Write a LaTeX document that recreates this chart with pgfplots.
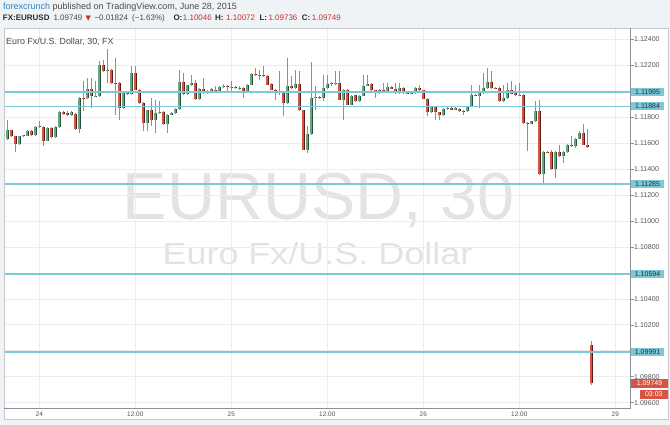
\documentclass[border=0pt]{standalone}
\usepackage{fontspec}
\setmainfont{Liberation Sans}
\newfontfamily\dejavu{DejaVu Sans}
\usepackage{graphicx}
\usepackage{pgfplots}
\usepackage{pgfplotstable}
\pgfplotsset{compat=1.18}
\definecolor{bg}{HTML}{F0F3F6}
\definecolor{framec}{HTML}{C5C9CE}
\definecolor{axline}{HTML}{8C8F94}
\definecolor{gridc}{HTML}{EDEDED}
\definecolor{hline}{HTML}{7CC8D8}
\definecolor{upfill}{HTML}{6BA583}
\definecolor{upedge}{HTML}{225437}
\definecolor{dnfill}{HTML}{D75442}
\definecolor{dnedge}{HTML}{5B1A13}
\definecolor{wick}{HTML}{8E8E8E}
\definecolor{txt}{HTML}{4A4A4A}
\definecolor{txtdark}{HTML}{2B2B2B}
\definecolor{lbl}{HTML}{555555}
\definecolor{link}{HTML}{2A85C9}
\definecolor{pricered}{HTML}{C9302C}
\definecolor{wm}{HTML}{E3E3E3}

% t = hours from 24 Jun 00:00 (weekend skipped), o h l c = open high low close
\pgfplotstableread{
t o h l c
-4 1.11633 1.11782 1.11628 1.11700
-2.5 1.11594 1.11658 1.11589 1.11653
-2 1.11653 1.11666 1.11648 1.11661
-1.5 1.11658 1.11705 1.11653 1.11697
-0.5 1.11661 1.11730 1.11653 1.11723
0 1.11725 1.11774 1.11720 1.11733
1 1.11620 1.11725 1.11615 1.11717
2 1.11646 1.11730 1.11640 1.11723
2.5 1.11723 1.11846 1.11717 1.11841
4 1.11820 1.11846 1.11813 1.11841
5 1.11712 1.11957 1.11679 1.11949
6 1.11946 1.12103 1.11941 1.12018
7 1.11962 1.12077 1.11957 1.11967
7.5 1.11962 1.12231 1.11957 1.12201
8.5 1.12154 1.12329 1.12064 1.12162
10.5 1.11872 1.12000 1.11867 1.11992
11.5 1.11980 1.12193 1.11974 1.12142
13.5 1.11756 1.11859 1.11692 1.11854
14.5 1.11777 1.11936 1.11679 1.11833
15 1.11833 1.11928 1.11828 1.11841
16 1.11751 1.11828 1.11679 1.11820
16.5 1.11820 1.11838 1.11815 1.11833
17 1.11833 1.11872 1.11828 1.11864
17.5 1.11864 1.12167 1.11859 1.12072
18.5 1.11982 1.12052 1.11974 1.12046
19 1.12046 1.12129 1.12041 1.12064
20 1.11941 1.12026 1.11936 1.12018
21 1.11992 1.12013 1.11982 1.11998
21.5 1.11992 1.12026 1.11987 1.12018
22.5 1.11995 1.12039 1.11987 1.12031
23 1.12031 1.12057 1.12026 1.12044
24 1.12031 1.12077 1.11987 1.12036
25 1.12021 1.12039 1.12013 1.12028
26 1.11992 1.12057 1.11987 1.12052
26.5 1.12052 1.12142 1.12046 1.12136
27.5 1.12126 1.12167 1.12090 1.12129
30 1.11987 1.12154 1.11974 1.11995
31 1.11910 1.12257 1.11905 1.12039
32 1.12026 1.12167 1.12021 1.12059
33.5 1.11550 1.11730 1.11525 1.11671
34 1.11671 1.12224 1.11666 1.11949
34.5 1.11949 1.12039 1.11859 1.11957
35.5 1.11946 1.12129 1.11923 1.12026
36 1.12026 1.12124 1.12021 1.12057
36.5 1.12057 1.12070 1.12041 1.12064
37 1.12059 1.12154 1.12046 1.12064
38 1.11936 1.12018 1.11782 1.12013
39 1.11897 1.11974 1.11892 1.11967
40 1.11923 1.11974 1.11918 1.11967
40.5 1.11967 1.12129 1.11962 1.12044
41 1.12044 1.12129 1.12039 1.12057
42.5 1.11987 1.12018 1.11982 1.12013
43.5 1.11995 1.12064 1.11990 1.12034
45 1.11987 1.12064 1.11982 1.12026
46.5 1.11985 1.11995 1.11980 1.11990
47 1.11987 1.12031 1.11982 1.12026
49 1.11838 1.11890 1.11833 1.11885
50.5 1.11815 1.11869 1.11810 1.11864
51 1.11864 1.11877 1.11859 1.11872
52 1.11859 1.11877 1.11854 1.11872
53.5 1.11846 1.11890 1.11841 1.11885
54 1.11885 1.12052 1.11879 1.11974
55 1.11967 1.12052 1.11872 1.11987
55.5 1.11987 1.12142 1.11982 1.12026
56 1.12026 1.12180 1.12021 1.12070
58 1.11923 1.12052 1.11918 1.11949
58.5 1.11949 1.12064 1.11944 1.12008
60 1.11972 1.12064 1.11967 1.11974
61.5 1.11751 1.11774 1.11746 1.11769
62 1.11769 1.11923 1.11764 1.11846
63 1.11363 1.11538 1.11293 1.11532
64.5 1.11401 1.11538 1.11332 1.11532
65.5 1.11499 1.11538 1.11448 1.11532
66 1.11532 1.11594 1.11527 1.11589
67 1.11576 1.11640 1.11566 1.11635
67.5 1.11635 1.11697 1.11630 1.11679
}\upcandles

\pgfplotstableread{
t o h l c
-4.5 1.11640 1.11646 1.11628 1.11633
-3.5 1.11700 1.11705 1.11648 1.11653
-3 1.11653 1.11658 1.11530 1.11594
-1 1.11697 1.11700 1.11653 1.11661
0.5 1.11725 1.11730 1.11576 1.11620
1.5 1.11717 1.11725 1.11640 1.11646
3 1.11841 1.11846 1.11820 1.11828
3.5 1.11833 1.11846 1.11813 1.11820
4.5 1.11825 1.11833 1.11705 1.11712
5.5 1.11951 1.12077 1.11846 1.11946
6.5 1.12018 1.12103 1.11872 1.11962
8 1.12201 1.12244 1.12149 1.12154
9 1.12167 1.12172 1.12059 1.12064
9.5 1.12067 1.12257 1.11820 1.12062
10 1.12064 1.12070 1.11782 1.11872
11 1.11992 1.12000 1.11974 1.11980
12 1.12142 1.12198 1.12008 1.12013
12.5 1.12013 1.12018 1.11905 1.11910
13 1.11910 1.11915 1.11692 1.11756
14 1.11854 1.11949 1.11730 1.11777
15.5 1.11841 1.11846 1.11743 1.11751
18 1.12072 1.12142 1.11974 1.11982
19.5 1.12064 1.12090 1.11936 1.11941
20.5 1.12018 1.12103 1.11982 1.11992
22 1.12013 1.12039 1.12000 1.12008
23.5 1.12044 1.12049 1.11987 1.12034
24.5 1.12036 1.12039 1.12021 1.12026
25.5 1.12026 1.12031 1.11949 1.11992
27 1.12136 1.12180 1.12121 1.12126
28 1.12129 1.12193 1.12111 1.12116
28.5 1.12121 1.12126 1.12046 1.12052
29 1.12057 1.12064 1.12008 1.12013
29.5 1.12013 1.12018 1.11936 1.11987
30.5 1.11995 1.12000 1.11807 1.11910
31.5 1.12039 1.12116 1.12021 1.12026
32.5 1.12059 1.12154 1.11849 1.11854
33 1.11854 1.11859 1.11545 1.11550
35 1.11957 1.11962 1.11941 1.11946
37.5 1.12064 1.12154 1.11931 1.11936
38.5 1.12013 1.12018 1.11892 1.11897
39.5 1.11969 1.11974 1.11918 1.11923
41.5 1.12057 1.12064 1.12003 1.12008
42 1.12008 1.12013 1.11949 1.11987
43 1.12013 1.12064 1.11990 1.11995
44 1.12034 1.12039 1.12016 1.12021
44.5 1.12021 1.12064 1.11982 1.11987
45.5 1.12026 1.12031 1.11982 1.11987
46 1.11987 1.11992 1.11980 1.11985
47.5 1.12026 1.12052 1.12003 1.12008
48 1.12008 1.12013 1.11939 1.11944
48.5 1.11944 1.11949 1.11807 1.11838
49.5 1.11877 1.11885 1.11782 1.11838
50 1.11838 1.11843 1.11782 1.11815
51.5 1.11872 1.11877 1.11854 1.11859
52.5 1.11867 1.11872 1.11841 1.11846
53 1.11851 1.11859 1.11820 1.11843
54.5 1.11974 1.11980 1.11962 1.11967
56.5 1.12070 1.12154 1.12021 1.12026
57 1.12026 1.12031 1.12018 1.12023
57.5 1.12026 1.12031 1.11918 1.11923
59 1.12013 1.12077 1.11977 1.11982
59.5 1.11987 1.12052 1.11967 1.11972
60.5 1.11974 1.11980 1.11751 1.11756
61 1.11756 1.11761 1.11538 1.11753
62.5 1.11846 1.11936 1.11358 1.11363
63.5 1.11532 1.11538 1.11525 1.11530
64 1.11532 1.11550 1.11396 1.11401
65 1.11532 1.11589 1.11494 1.11499
66.5 1.11589 1.11653 1.11571 1.11576
68 1.11679 1.11748 1.11584 1.11589
68.5 1.11589 1.11712 1.11563 1.11568
69 1.10046 1.10072 1.09736 1.09749
}\dncandles

\begin{document}
\begin{tikzpicture}[x=1pt,y=1pt]
\fill[bg] (0,0) rectangle (670,-425);
\fill[white] (4,-28) rectangle (668,-419);
% watermark
\node[anchor=base, inner sep=0, text=wm, font=\fontsize{66.5}{70}\selectfont] at (318.8,-219.3) {EURUSD, 30};
\node[anchor=base, inner sep=0, text=wm, font=\fontsize{30.5}{34}\selectfont] at (317.5,-265) {\scalebox{1.18}[1]{Euro Fx/U.S. Dollar}};

\begin{axis}[
  at={(4pt,-408pt)}, anchor=south west,
  scale only axis, width=626.7pt, height=380pt,
  xmin=-4.416, xmax=73.92, ymin=1.095594, ymax=1.124883,
  axis line style={draw=none},
  clip mode=individual,
  grid=major,
  major grid style={draw=gridc, line width=0.8pt},
  tick align=outside, major tick length=3pt,
  xtick={0,12,24,36,48,60,72},
  xticklabels={24,12:00,25,12:00,26,12:00,29},
  xtick pos=left, xticklabel pos=left,
  ytick pos=right, yticklabel pos=right,
  xtick style={draw=none},
  ytick style={draw=axline, line width=0.6pt},
  ytick={1.096,1.098,1.100,1.102,1.104,1.106,1.108,1.110,1.112,1.114,1.116,1.118,1.120,1.122,1.124},
  scaled y ticks=false,
  yticklabel={\pgfmathprintnumber[fixed,fixed zerofill,precision=5,assume math mode=true]{\tick}},
  xticklabel style={font=\fontsize{6.5}{7}\selectfont, text=lbl, inner ysep=1pt},
  yticklabel style={font=\fontsize{7}{8}\selectfont, text=lbl, xshift=-3pt},
]
% wicks
\addplot[forget plot, draw=none, mark=none, error bars/.cd, y dir=plus, y explicit, error mark=none,
  error bar style={draw=wick, line width=0.9pt}]
  table[x=t, y=l, y error plus expr=\thisrow{h}-\thisrow{l}] {\upcandles};
\addplot[forget plot, draw=none, mark=none, error bars/.cd, y dir=plus, y explicit, error mark=none,
  error bar style={draw=wick, line width=0.9pt}]
  table[x=t, y=l, y error plus expr=\thisrow{h}-\thisrow{l}] {\dncandles};
% bodies
\addplot[forget plot, draw=none, mark=none, error bars/.cd, y dir=plus, y explicit, error mark=none,
  error bar style={draw=upedge, line width=3pt}]
  table[x=t, y=o, y error plus expr=\thisrow{c}-\thisrow{o}] {\upcandles};
\addplot[forget plot, draw=none, mark=none, error bars/.cd, y dir=plus, y explicit, error mark=none,
  error bar style={draw=upfill, line width=1.8pt}]
  table[x=t, y=o, y error plus expr=\thisrow{c}-\thisrow{o}] {\upcandles};
\addplot[forget plot, draw=none, mark=none, error bars/.cd, y dir=plus, y explicit, error mark=none,
  error bar style={draw=dnedge, line width=3pt}]
  table[x=t, y=c, y error plus expr=\thisrow{o}-\thisrow{c}] {\dncandles};
\addplot[forget plot, draw=none, mark=none, error bars/.cd, y dir=plus, y explicit, error mark=none,
  error bar style={draw=dnfill, line width=1.8pt}]
  table[x=t, y=c, y error plus expr=\thisrow{o}-\thisrow{c}] {\dncandles};
% horizontal levels
\addplot[forget plot, draw=hline, line width=1.8pt] coordinates {(-4.416,1.11995) (73.92,1.11995)};
\addplot[forget plot, draw=hline, line width=1.8pt] coordinates {(-4.416,1.11884) (73.92,1.11884)};
\addplot[forget plot, draw=hline, line width=1.8pt] coordinates {(-4.416,1.11285) (73.92,1.11285)};
\addplot[forget plot, draw=hline, line width=1.8pt] coordinates {(-4.416,1.10594) (73.92,1.10594)};
\addplot[forget plot, draw=hline, line width=1.8pt] coordinates {(-4.416,1.09991) (73.92,1.09991)};
\coordinate (L1) at (axis cs:73.92,1.11995);
\coordinate (L2) at (axis cs:73.92,1.11884);
\coordinate (L3) at (axis cs:73.92,1.11285);
\coordinate (L4) at (axis cs:73.92,1.10594);
\coordinate (L5) at (axis cs:73.92,1.09991);
\coordinate (L6) at (axis cs:73.92,1.09749);
\end{axis}

% frame and scale borders
\draw[framec, line width=0.8pt] (4,-28) rectangle (668,-419);
\draw[axline, line width=0.8pt] (630.7,-28) -- (630.7,-408);
\draw[axline, line width=0.8pt] (4,-408) -- (630.7,-408);

% price labels
\tikzset{hl/.style={anchor=west, fill=hline, text=txtdark, minimum width=33.3pt, minimum height=8pt, inner sep=0pt, font=\fontsize{7}{8}\selectfont}}
\node[hl] at (L1) {1.11995};
\node[hl] at (L2) {1.11884};
\node[hl] at (L3) {1.11285};
\node[hl] at (L4) {1.10594};
\node[hl] at (L5) {1.09991};
\node[anchor=west, fill=dnfill, text=white, minimum width=37.3pt, minimum height=9.3pt, inner sep=0pt, font=\fontsize{7}{8}\selectfont] at (L6) {1.09749};
\node[anchor=north east, fill=dnfill, text=white, minimum width=28pt, minimum height=8.7pt, inner sep=0pt, font=\fontsize{7}{8}\selectfont] at (668,-390) {03:03};

% header
\node[anchor=base west, inner sep=0, font=\fontsize{9}{10}\selectfont, text=txt] at (3,-9.5)
  {\textcolor{link}{forexcrunch} published on TradingView.com, June 28, 2015};
\begin{scope}[every node/.style={anchor=base west, inner sep=0, font=\fontsize{8}{9}\selectfont, text=txt}]
\node[text=txtdark] at (2.7,-20.3) {\textbf{FX:EURUSD}};
\node at (53.3,-20.3) {1.09749};
\node[text=pricered] at (85.5,-20.3) {\dejavu\fontsize{7}{8}\selectfont ▼};
\node at (94.3,-20.3) {−0.01824};
\node at (132,-20.3) {(−1.63\%)};
\node[text=txtdark] at (173.3,-20.3) {\textbf{O:}};
\node[text=pricered] at (182.7,-20.3) {1.10046};
\node[text=txtdark] at (215,-20.3) {\textbf{H:}};
\node[text=pricered] at (226,-20.3) {1.10072};
\node[text=txtdark] at (259.3,-20.3) {\textbf{L:}};
\node[text=pricered] at (268.3,-20.3) {1.09736};
\node[text=txtdark] at (301.7,-20.3) {\textbf{C:}};
\node[text=pricered] at (311.7,-20.3) {1.09749};
\end{scope}
\node[anchor=base west, inner sep=0, font=\fontsize{8.9}{10}\selectfont, text=txt] at (6,-44.5) {Euro Fx/U.S. Dollar, 30, FX};
\end{tikzpicture}
\end{document}
